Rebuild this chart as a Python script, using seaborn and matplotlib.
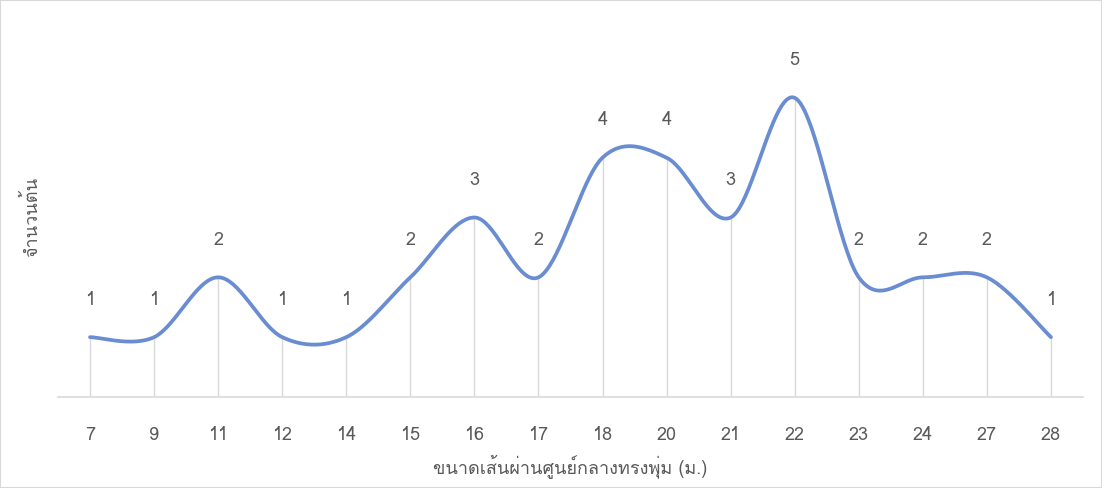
import numpy as np
import pandas as pd
import seaborn as sns
import matplotlib
matplotlib.use("Agg")
import matplotlib.pyplot as plt
from matplotlib import font_manager
from matplotlib.patches import Rectangle

categories = ["7", "9", "11", "12", "14", "15", "16", "17", "18", "20", "21", "22", "23", "24", "27", "28"]
counts = [1, 1, 2, 1, 1, 2, 3, 2, 4, 4, 3, 5, 2, 2, 2, 1]
x_title = "ขนาดเส้นผ่านศูนย์กลางทรงพุ่ม (ม.)"
y_title = "จำนวนต้น"

sns.set_theme(style="white")

# find a font with Thai glyphs
thai_family = None
try:
    from fontTools.ttLib import TTFont
    for fe in font_manager.fontManager.ttflist:
        try:
            tt = TTFont(fe.fname, fontNumber=0, lazy=True)
            cmap = tt.getBestCmap()
            if cmap and 0x0E02 in cmap and 0x0E49 in cmap:
                thai_family = fe.name
                break
        except Exception:
            continue
except Exception:
    pass
fams = ([thai_family] if thai_family else []) + ["DejaVu Sans"]
plt.rcParams["font.family"] = fams

df = pd.DataFrame({"cat": categories, "n": counts})
df["i"] = np.arange(len(df))

# Catmull-Rom smoothing (like Excel smoothed line)
def smooth(xs, ys, steps=40):
    xs = np.asarray(xs, float); ys = np.asarray(ys, float)
    px = np.concatenate([[xs[0]], xs, [xs[-1]]])
    py = np.concatenate([[ys[0]], ys, [ys[-1]]])
    ox, oy = [], []
    t = np.linspace(0, 1, steps)
    for k in range(1, len(px) - 2):
        p0, p1, p2, p3 = (np.array([px[j], py[j]]) for j in (k - 1, k, k + 1, k + 2))
        c1 = p1 + (p2 - p0) / 6
        c2 = p2 - (p3 - p1) / 6
        b = ((1 - t) ** 3)[:, None] * p1 + (3 * (1 - t) ** 2 * t)[:, None] * c1 + \
            (3 * (1 - t) * t ** 2)[:, None] * c2 + (t ** 3)[:, None] * p2
        ox.extend(b[:, 0]); oy.extend(b[:, 1])
    return np.array(ox), np.array(oy)

sx, sy = smooth(df["i"], df["n"])
sm = pd.DataFrame({"x": sx, "y": sy})

fig = plt.figure(figsize=(11.02, 4.88), dpi=100)
ax = fig.add_axes([58 / 1102, 91 / 488, (1083 - 58) / 1102, (397 - 38) / 488])

ax.vlines(df["i"], 0, df["n"], color="#D9D9D9", lw=1.0, zorder=1)
sns.lineplot(data=sm, x="x", y="y", ax=ax, color="#6A8DD2", lw=2.7, sort=False, zorder=3)

for i, v in zip(df["i"], df["n"]):
    ax.annotate(str(v), (i, v), xytext=(0, 27), textcoords="offset points",
                ha="center", va="center", fontsize=13, color="#595959")

ax.set_xlim(-0.5, len(df) - 0.5)
ax.set_ylim(0, 6)
ax.set_xticks(df["i"])
ax.set_xticklabels(categories, fontsize=13, color="#595959")
ax.tick_params(axis="x", length=0, pad=21)
ax.set_yticks([])
for s in ["top", "right", "left"]:
    ax.spines[s].set_visible(False)
ax.spines["bottom"].set_color("#D9D9D9")
ax.spines["bottom"].set_linewidth(1.2)
ax.set_xlabel(x_title, fontsize=13, color="#595959", labelpad=7)
ax.set_ylabel("")
fig.text(32 / 1102, 1 - 217 / 488, y_title, rotation=90, ha="center", va="center",
         fontsize=13, color="#595959")

fig.patches.append(Rectangle((0, 0), 1, 1, transform=fig.transFigure, fill=False,
                             edgecolor="#D9D9D9", lw=1.5))
fig.savefig("out.png", dpi=100, facecolor="white")
